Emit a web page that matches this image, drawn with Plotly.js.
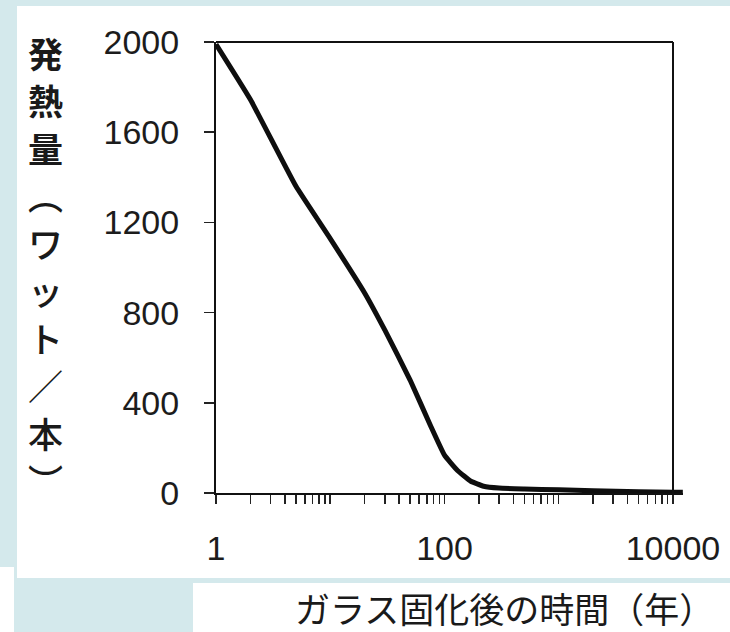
<!DOCTYPE html>
<html>
<head>
<meta charset="utf-8">
<script src="https://cdn.plot.ly/plotly-3.0.1.min.js"></script>
<style>
  html, body { margin: 0; padding: 0; background: #d4e9ec; }
  #chart { width: 730px; height: 632px; }
</style>
</head>
<body>
<div id="chart"></div>
<script>
// Data
const years = [1, 2, 5, 10, 20, 30, 50, 75, 100, 130, 170, 220, 300, 500, 1000, 2000, 5000, 10000, 12200];
const heat  = [1990, 1745, 1361, 1128, 887, 723, 501, 302, 168, 100, 52, 30, 22, 18, 14, 10, 5, 3, 3];

const yTickVals = [0, 400, 800, 1200, 1600, 2000];
const yTickText = ['0', '400', '800', '1200', '1600', '2000'];

const xTickVals = [1,2,3,4,5,6,7,8,9,10,20,30,40,50,60,70,80,90,100,200,300,400,500,600,700,800,900,1000,2000,3000,4000,5000,6000,7000,8000,9000,10000];
const xTickText = xTickVals.map(v => (v === 1 || v === 100 || v === 10000) ? String(v) : '');

const yTitleChars = ['発','熱','量','︵','ワ','ッ','ト','／','本','︶'];
const xTitleText = 'ガラス固化後の時間（年）';

// pixel -> paper helpers (plot area: left 216, right 683, top 42, bottom 493)
const L = 216, R = 683, T = 42, B = 493;
const px = x => (x - L) / (R - L);
const py = y => (B - y) / (B - T);

const trace = {
  x: years, y: heat, type: 'scatter', mode: 'lines',
  line: { color: '#0e0e0e', width: 5, shape: 'spline', smoothing: 0.35 },
  hoverinfo: 'skip'
};

const numFont = { family: 'Liberation Sans, Arial, sans-serif', size: 34, color: '#1c1c1c' };

const yTitleAnnotations = yTitleChars.map((ch, i) => ({
  xref: 'paper', yref: 'paper', x: px(45), y: py(52 + i * 47.5),
  xanchor: 'center', yanchor: 'middle', showarrow: false, borderpad: 0,
  text: ch,
  font: { family: 'Noto Sans CJK JP, sans-serif', size: 35, color: '#1a1a1a',
          weight: i < 3 ? 'bold' : 500 }
}));

const layout = {
  width: 730, height: 632,
  margin: { l: L, r: 730 - R, t: T, b: 632 - B, pad: 0 },
  paper_bgcolor: '#d4e9ec',
  plot_bgcolor: '#ffffff',
  showlegend: false,
  xaxis: {
    type: 'log', range: [0, Math.log10(12240)],
    tickmode: 'array', tickvals: xTickVals, ticktext: xTickText,
    ticks: 'outside', ticklen: 9, tickwidth: 1.5, tickcolor: '#222',
    showline: true, linewidth: 2, linecolor: '#111',
    showgrid: false, zeroline: false,
    tickfont: numFont, ticklabelstandoff: 15
  },
  yaxis: {
    range: [0, 2000],
    tickmode: 'array', tickvals: yTickVals, ticktext: yTickText,
    ticks: 'outside', ticklen: 10, tickwidth: 1.5, tickcolor: '#222',
    showline: true, linewidth: 2, linecolor: '#111',
    showgrid: false, zeroline: false,
    tickfont: numFont, ticklabelstandoff: 18
  },
  shapes: [
    { type: 'rect', xref: 'paper', yref: 'paper', layer: 'below',
      x0: px(17), x1: px(730), y0: py(578), y1: py(6),
      fillcolor: '#ffffff', line: { width: 0 } },
    { type: 'rect', xref: 'paper', yref: 'paper', layer: 'below',
      x0: px(193), x1: px(730), y0: py(632), y1: py(583),
      fillcolor: '#ffffff', line: { width: 0 } },
    { type: 'rect', xref: 'paper', yref: 'paper', layer: 'below',
      x0: px(0), x1: px(14), y0: py(632), y1: py(567),
      fillcolor: '#ffffff', line: { width: 0 } },
    // frame: top and right
    { type: 'line', xref: 'paper', yref: 'paper',
      x0: 0, x1: px(673), y0: 1, y1: 1, line: { color: '#111', width: 2 } },
    { type: 'line', xref: 'paper', yref: 'paper',
      x0: px(673), x1: px(673), y0: 0, y1: 1, line: { color: '#111', width: 2 } }
  ],
  annotations: yTitleAnnotations.concat([
    { xref: 'paper', yref: 'paper', x: px(504), y: py(607),
      xanchor: 'center', yanchor: 'middle', showarrow: false,
      text: xTitleText,
      font: { family: 'Noto Sans CJK JP, sans-serif', size: 35, color: '#1a1a1a' } }
  ])
};

Plotly.newPlot('chart', [trace], layout, { displayModeBar: false, staticPlot: true });
</script>
</body>
</html>
